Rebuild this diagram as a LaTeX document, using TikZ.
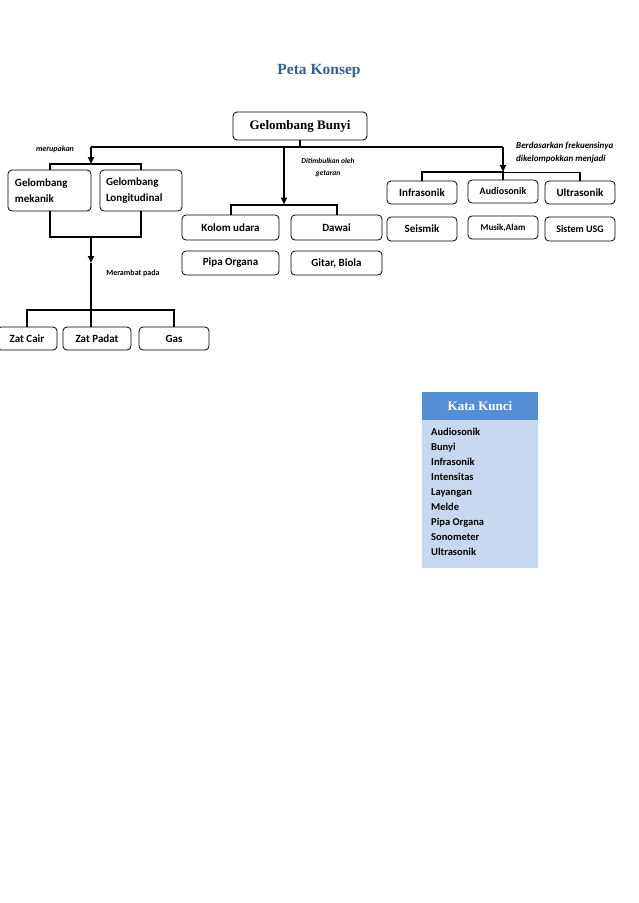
\documentclass[tikz,border=0pt]{standalone}
\usepackage{fontspec}
\setmainfont{Liberation Serif}
\newfontfamily\carl{Carlito}
\usetikzlibrary{arrows.meta}
\definecolor{titleblue}{HTML}{365F91}
\definecolor{headblue}{HTML}{558ED5}
\definecolor{bodyblue}{HTML}{C6D9F1}
\tikzset{
  box/.style={draw, rounded corners=4pt, line width=0.8pt, font=\carl\bfseries\fontsize{11}{13}\selectfont, inner sep=2pt},
  conn/.style={line width=2pt},
  arr/.style={line width=2pt, -{Triangle[length=7pt,width=6pt]}},
  lbl/.style={font=\carl\bfseries\itshape\fontsize{7.5}{9}\selectfont, inner sep=0pt},
}
\begin{document}
\begin{tikzpicture}[x=1pt,y=-1pt]
\useasboundingbox (0,0) rectangle (638,903);
\fill[white] (0,0) rectangle (638,903);

\node[font=\bfseries\fontsize{15.5}{18}\selectfont, text=titleblue] (title) at (319,71) {Peta Konsep};

\node[box, font=\bfseries\fontsize{13}{15}\selectfont, minimum width=134pt, minimum height=28pt] (gb) at (300,126) {Gelombang Bunyi};

% left group
\node[box, minimum width=83pt, minimum height=41pt, align=left, text width=69pt, inner xsep=7pt] (gm) at (49.5,190.5) {Gelombang\\[3pt]mekanik};
\node[box, minimum width=82pt, minimum height=41pt, align=left, text width=70pt, inner xsep=6pt] (gl) at (141,190.5) {Gelombang\\[3pt]Longitudinal};

\node[box, minimum width=60pt, minimum height=23pt] (zc) at (27,338.5) {Zat Cair};
\node[box, minimum width=68pt, minimum height=23pt] (zp) at (97,338.5) {Zat Padat};
\node[box, minimum width=70pt, minimum height=23pt] (gas) at (174,338.5) {Gas};

% middle group
\node[box, minimum width=97pt, minimum height=25pt] (ku) at (230.5,227.5) {Kolom udara};
\node[box, minimum width=91pt, minimum height=25pt] (dw) at (336.5,227.5) {Dawai};
\node[box, minimum width=97pt, minimum height=24pt] (po) at (230.5,263) {Pipa Organa};
\node[box, minimum width=91pt, minimum height=24pt] (gt) at (336.5,263) {Gitar, Biola};

% right group
\node[box, minimum width=70pt, minimum height=23pt] (inf) at (422,192.5) {Infrasonik};
\node[box, minimum width=70pt, minimum height=23pt, font=\carl\bfseries\fontsize{10}{12}\selectfont] (aud) at (503,191.5) {Audiosonik};
\node[box, minimum width=70pt, minimum height=23pt] (ult) at (580,192.5) {Ultrasonik};
\node[box, minimum width=70pt, minimum height=24pt] (sei) at (422,229) {Seismik};
\node[box, minimum width=70pt, minimum height=23pt, font=\carl\bfseries\fontsize{9}{11}\selectfont] (mus) at (503,227.5) {Musik,Alam};
\node[box, minimum width=70pt, minimum height=24pt, font=\carl\bfseries\fontsize{10}{12}\selectfont] (usg) at (580,229) {Sistem USG};

% junction coordinates
\coordinate (jL) at (91,147);
\coordinate (jM) at (284,147);
\coordinate (jR) at (503,147);
\coordinate (bL) at (91,164);
\coordinate (bM) at (284,204.5);
\coordinate (bR) at (503,172);
\coordinate (bb) at (91,237);
\coordinate (am) at (91,263);
\coordinate (bz) at (91,310);

% connectors
\draw[conn] (gb.south) -- (gb.south |- jL);
\draw[conn] (jL) -- (jR);
\draw[arr] (jL) -- (bL);
\draw[conn] (gm.north) -- (gm.north |- bL) -- (gl.north |- bL) -- (gl.north);
\draw[conn] (gm.south) -- (gm.south |- bb) -- (gl.south |- bb) -- (gl.south);
\draw[arr] (bb) -- (am);
\draw[conn] (am) -- (bz);
\draw[conn] (zc.north) -- (zc.north |- bz) -- (gas.north |- bz) -- (gas.north);
\draw[conn] (bz) -- (bz |- zp.north);

\draw[arr] (jM) -- (bM);
\draw[conn] (ku.north) -- (ku.north |- bM) -- (dw.north |- bM) -- (dw.north);

\draw[arr] (jR) -- (bR);
\draw[conn] (inf.north) -- (inf.north |- bR) -- (bR) -- (aud.north);
\draw[line width=0.8pt] (bR) -- (ult.north |- bR);
\draw[conn] (ult.north |- bR) -- (ult.north);

% labels
\node[lbl, font=\carl\bfseries\itshape\fontsize{8}{9}\selectfont] (lmer) at (55,149.5) {merupakan};
\node[lbl, align=center] (ldit) at (328,167) {Ditimbulkan oleh\\[3pt]getaran};
\node[lbl, font=\carl\bfseries\fontsize{8}{9}\selectfont] (lmra) at (133,273) {Merambat pada};
\node[lbl, font=\carl\bfseries\itshape\fontsize{9}{13}\selectfont, align=left, anchor=west] (lber) at (516,152.5) {Berdasarkan frekuensinya\\dikelompokkan menjadi};

% Kata Kunci
\node[draw=none, fill=headblue, minimum width=116pt, minimum height=28pt, text=white, font=\bfseries\fontsize{13}{15}\selectfont, inner sep=0pt] (kkh) at (480,406) {Kata Kunci};
\node[draw=none, fill=bodyblue, minimum width=116pt, minimum height=148pt, anchor=north, inner sep=0pt] (kkb) at (kkh.south) {};
\node[anchor=north west, align=left, inner sep=0pt, font=\carl\bfseries\fontsize{10.5}{15}\selectfont] (kkl) at (431,428) {Audiosonik\\Bunyi\\Infrasonik\\Intensitas\\Layangan\\Melde\\Pipa Organa\\Sonometer\\Ultrasonik};
\end{tikzpicture}
\end{document}
